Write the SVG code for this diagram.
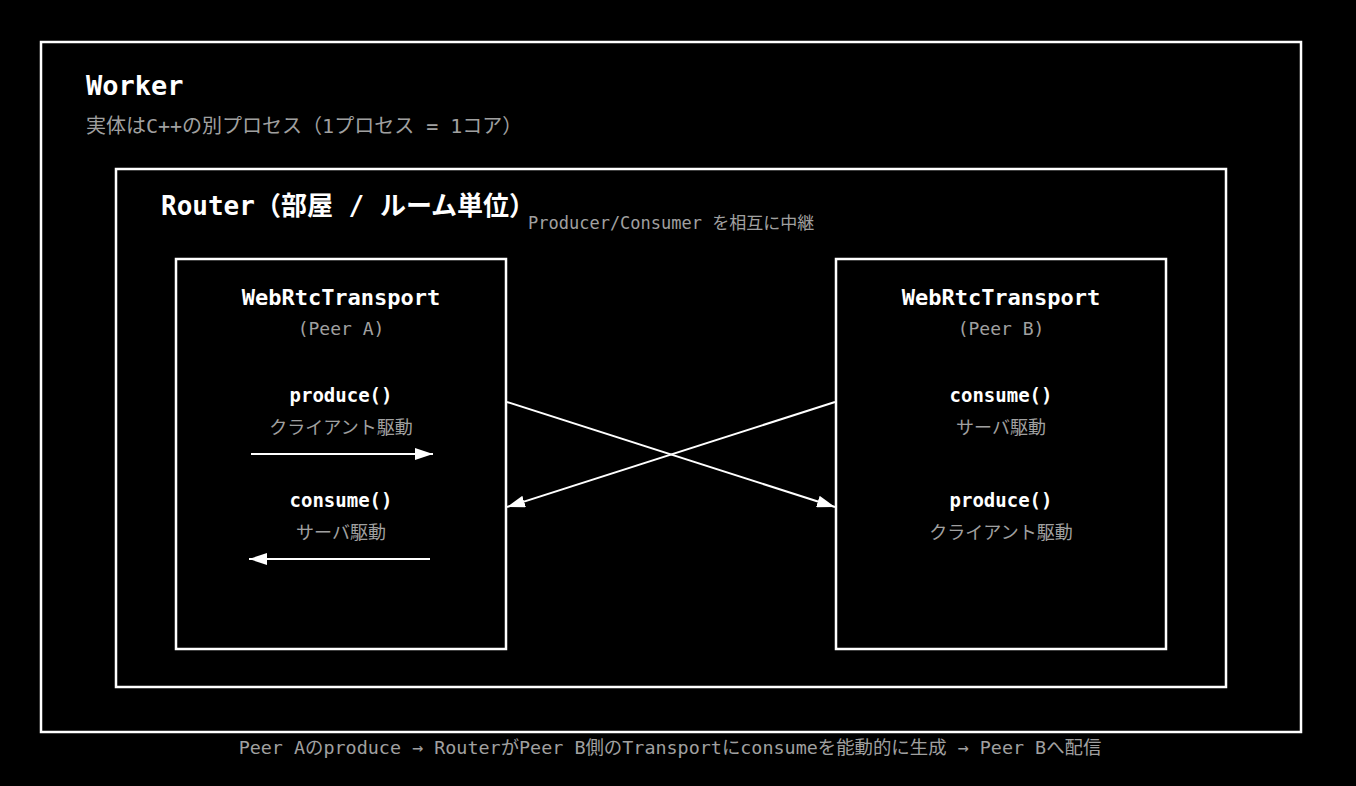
<svg xmlns="http://www.w3.org/2000/svg" width="1356" height="786" viewBox="0 0 1356 786">
<defs>
<marker id="ah" viewBox="0 0 18 12" refX="18" refY="6" markerWidth="18" markerHeight="12" markerUnits="userSpaceOnUse" orient="auto">
<path d="M0,0 L18,6 L0,12 Z" fill="#ffffff"/>
</marker>
<style>
.box{fill:#000;stroke:#fff;stroke-width:2.5}
.t{font-family:"DejaVu Sans Mono","Noto Sans CJK JP",monospace;fill:#fff}
.b{font-weight:bold}
.g{fill:#a0a0a0}
.m{text-anchor:middle}
.ln{stroke:#fff;stroke-width:2;fill:none}
</style>
</defs>
<rect width="1356" height="786" fill="#000"/>
<g id="worker">
<rect class="box" x="41" y="42" width="1260" height="690"/>
<text class="t b" x="86" y="95" font-size="27">Worker</text>
<text class="t g" x="86" y="133" font-size="20">実体はC++の別プロセス（1プロセス = 1コア）</text>
</g>
<g id="router">
<rect class="box" x="116" y="169" width="1110" height="518"/>
<text class="t b" x="161" y="215" font-size="26">Router（部屋 / ルーム単位）</text>
<text class="t g" x="528" y="229" font-size="17">Producer/Consumer を相互に中継</text>
</g>
<g id="peerA">
<rect class="box" x="176" y="259" width="330" height="390"/>
<text class="t b m" x="341" y="305" font-size="22">WebRtcTransport</text>
<text class="t g m" x="341" y="335" font-size="18">(Peer A)</text>
<text class="t b m" x="341" y="402" font-size="19">produce()</text>
<text class="t g m" x="341" y="434" font-size="18">クライアント駆動</text>
<text class="t b m" x="341" y="507" font-size="19">consume()</text>
<text class="t g m" x="341" y="539" font-size="18">サーバ駆動</text>
</g>
<g id="peerB">
<rect class="box" x="836" y="259" width="330" height="390"/>
<text class="t b m" x="1001" y="305" font-size="22">WebRtcTransport</text>
<text class="t g m" x="1001" y="335" font-size="18">(Peer B)</text>
<text class="t b m" x="1001" y="402" font-size="19">consume()</text>
<text class="t g m" x="1001" y="434" font-size="18">サーバ駆動</text>
<text class="t b m" x="1001" y="507" font-size="19">produce()</text>
<text class="t g m" x="1001" y="539" font-size="18">クライアント駆動</text>
</g>
<g id="connectors">
<line class="ln" x1="251" y1="454" x2="433" y2="454" marker-end="url(#ah)"/>
<line class="ln" x1="430" y1="559" x2="249" y2="559" marker-end="url(#ah)"/>
<line class="ln" x1="507" y1="402" x2="835" y2="507" marker-end="url(#ah)"/>
<line class="ln" x1="835" y1="402" x2="507" y2="507" marker-end="url(#ah)"/>
</g>
<text class="t g m" x="670" y="754" font-size="18.4">Peer Aのproduce → RouterがPeer B側のTransportにconsumeを能動的に生成 → Peer Bへ配信</text>
</svg>
